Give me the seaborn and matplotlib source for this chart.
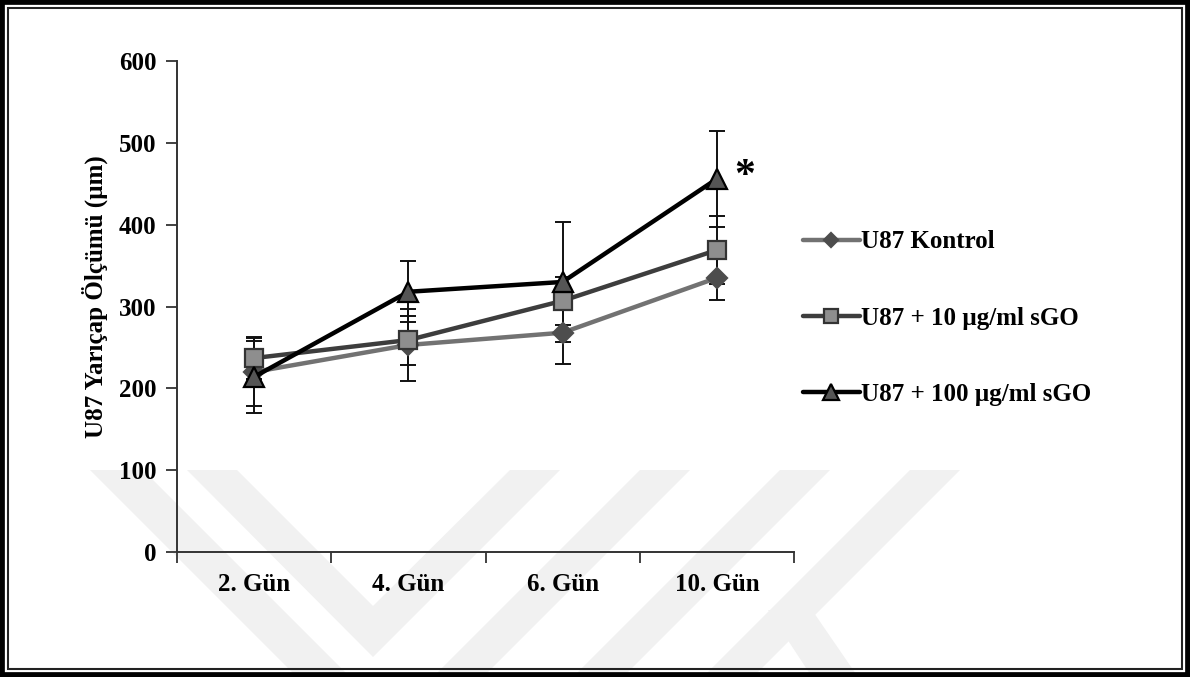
import matplotlib
matplotlib.use("Agg")
import matplotlib.pyplot as plt
from matplotlib.patches import Polygon, Rectangle
import seaborn as sns
import numpy as np

# Data: mean radius (µm) and standard deviation per day
days = ["2. Gün", "4. Gün", "6. Gün", "10. Gün"]
kontrol = [220, 253, 268, 335]
kontrol_sd = [42, 44, 38, 27]
sgo10 = [237, 259, 307, 369]
sgo10_sd = [26, 30, 29, 42]
sgo100 = [214, 318, 330, 456]
sgo100_sd = [44, 37, 73, 59]
series_names = ["U87 Kontrol", "U87 + 10 µg/ml sGO", "U87 + 100 µg/ml sGO"]
y_ticks = [0, 100, 200, 300, 400, 500, 600]

sns.set_theme(style="white")
plt.rcParams["font.family"] = ["Liberation Serif", "DejaVu Serif"]
plt.rcParams["font.weight"] = "bold"
plt.rcParams["text.color"] = "black"
plt.rcParams["axes.labelcolor"] = "black"
plt.rcParams["xtick.labelcolor"] = "black"
plt.rcParams["ytick.labelcolor"] = "black"

W, H = 1190, 677
fig = plt.figure(figsize=(W / 100, H / 100), dpi=100)
fig.patch.set_facecolor("white")


def px(x, y):
    return (x / W, 1 - y / H)


# faint background emblem
wm_color = "#f1f1f1"
wm_shapes = [
    [(90, 470), (143, 470), (350, 677), (297, 677)],
    [(187, 470), (237, 470), (373, 606), (510, 470), (560, 470), (373, 657)],
    [(640, 470), (690, 470), (483, 677), (433, 677)],
    [(780, 470), (830, 470), (623, 677), (573, 677)],
    [(910, 470), (960, 470), (753, 677), (703, 677)],
    [(768, 610), (812, 610), (858, 677), (812, 677)],
]
for shp in wm_shapes:
    fig.patches.append(Polygon([px(*p) for p in shp], closed=True,
                               transform=fig.transFigure, facecolor=wm_color,
                               edgecolor="none", zorder=-5))

# double frame around the figure
fig.patches.append(Rectangle((0, 0), 1, 1, transform=fig.transFigure,
                             fill=False, edgecolor="black", linewidth=7, zorder=10))
x0, y0 = px(8, 669)
x1, y1 = px(1182, 8)
fig.patches.append(Rectangle((x0, y0), x1 - x0, y1 - y0, transform=fig.transFigure,
                             fill=False, edgecolor="#222222", linewidth=1.5, zorder=10))

left, right, top, bottom = 177, 794, 61, 552
ax = fig.add_axes([left / W, (H - bottom) / H, (right - left) / W, (bottom - top) / H])
ax.patch.set_alpha(0)

pos = np.arange(len(days))
styles = [
    dict(vals=kontrol, sd=kontrol_sd, color="#727272", marker="D", ms=10,
         mfc="#4d4d4d", mec="#4d4d4d", z=3),
    dict(vals=sgo10, sd=sgo10_sd, color="#3d3d3d", marker="s", ms=13,
         mfc="#8e8e8e", mec="#333333", z=4),
    dict(vals=sgo100, sd=sgo100_sd, color="#000000", marker="^", ms=15,
         mfc="#555555", mec="#000000", z=5),
]

for name, st in zip(series_names, styles):
    ax.errorbar(pos, st["vals"], yerr=st["sd"], fmt="none", ecolor="#111111",
                elinewidth=1.4, capsize=6, capthick=1.4, zorder=2)
    sns.lineplot(x=pos, y=st["vals"], ax=ax, color=st["color"], linewidth=3.2,
                 marker=st["marker"], markersize=st["ms"],
                 markerfacecolor=st["mfc"], markeredgecolor=st["mec"],
                 markeredgewidth=1.6, label=name, zorder=st["z"])

ax.text(3.18, sgo100[3] + 2, "*", fontsize=30, fontweight="bold",
        ha="center", va="center")

ax.set_xlim(-0.5, len(days) - 0.5)
ax.set_ylim(0, 600)
ax.set_yticks(y_ticks)
ax.set_yticklabels([str(v) for v in y_ticks], fontsize=18, fontweight="bold")
ax.set_xticks(np.arange(len(days) + 1) - 0.5)
ax.set_xticklabels([])
ax.set_xticks(pos, minor=True)
ax.set_xticklabels(days, minor=True, fontsize=18, fontweight="bold")
ax.tick_params(axis="x", which="major", direction="out", length=8, width=1.3,
               color="#333333", bottom=True)
ax.tick_params(axis="x", which="minor", length=0, pad=15, bottom=True)
ax.tick_params(axis="y", direction="out", length=8, width=1.3, color="#333333",
               pad=7, left=True)
for s in ["top", "right"]:
    ax.spines[s].set_visible(False)
for s in ["left", "bottom"]:
    ax.spines[s].set_color("#333333")
    ax.spines[s].set_linewidth(1.4)
ax.set_xlabel("")
ax.set_ylabel("U87 Yarıçap Ölçümü (µm)", fontsize=18, fontweight="bold")
ax.yaxis.set_label_coords(-0.112, 0.52)

ax.legend(loc="center left", bbox_to_anchor=px(790, 318), bbox_transform=fig.transFigure,
          frameon=False, prop={"weight": "bold", "size": 18},
          labelspacing=2.12, handlelength=2.3, handletextpad=0.05, borderpad=0,
          markerscale=0.75)

fig.savefig("out.png", dpi=100)
